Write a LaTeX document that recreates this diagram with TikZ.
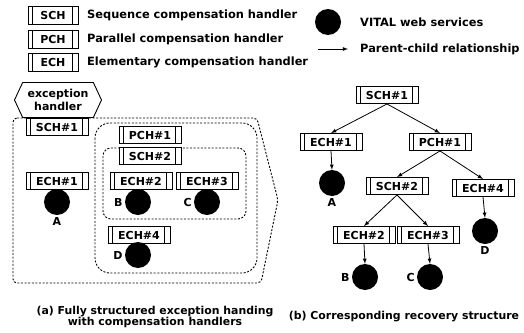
\documentclass[tikz,border=0pt]{standalone}
\usepackage{fontspec}
\setmainfont{DejaVu Sans}
\usetikzlibrary{arrows, shapes.symbols, positioning}
\newcommand{\boxfont}{\bfseries\fontsize{11}{13}\selectfont}
\newcommand{\legendfont}{\bfseries\fontsize{11.4}{13}\selectfont}
\newcommand{\captionfont}{\bfseries\fontsize{10.9}{11.5}\selectfont}
\tikzset{
    handler/.style={rectangle, draw, fill=white, line width=0.9pt, minimum width=62pt, minimum height=17pt, inner sep=0pt, font=\boxfont,
        path picture={
            \draw[line width=0.7pt] ([xshift=4pt]path picture bounding box.north west) -- ([xshift=4pt]path picture bounding box.south west);
            \draw[line width=0.7pt] ([xshift=-6pt]path picture bounding box.north east) -- ([xshift=-6pt]path picture bounding box.south east);
        }},
    legendBox/.style={handler, minimum width=50pt, minimum height=18pt},
    legendText/.style={anchor=west, inner sep=0pt, font=\legendfont},
    service/.style={circle, fill=black, minimum size=26pt, inner sep=0pt},
    svcLabel/.style={font=\boxfont, inner sep=2pt},
    excBox/.style={signal, signal to=west and east, signal pointer angle=130, draw, fill=white, line width=0.9pt, minimum width=87pt, minimum height=35pt, inner sep=0pt, align=center, font=\boxfont},
    region/.style={line width=0.9pt, dash pattern=on 2pt off 1.6pt},
    treeEdge/.style={->, >=latex, line width=0.8pt},
}
\newcommand{\drawChild}[2]{
    \draw[treeEdge] (#1.south) -- (#2.north);
}

\begin{document}
\begin{tikzpicture}[x=1pt, y=-1pt]
    \useasboundingbox (0,0) rectangle (524,332);

    % legend
    \node[legendBox] (legSch) at (53,15) {SCH};
    \node[legendBox] (legPch) at (53,39) {PCH};
    \node[legendBox] (legEch) at (53,62) {ECH};
    \node[legendText] (legSchTxt) at (87,15) {Sequence compensation handler};
    \node[legendText] (legPchTxt) at (87,39) {Parallel compensation handler};
    \node[legendText] (legEchTxt) at (87,62) {Elementary compensation handler};
    \node[service] (legSvc) at (328,22) {};
    \node[legendText] (legSvcTxt) at (360,22) {VITAL web services};
    \coordinate (legTail) at (318,49);
    \coordinate (legHead) at (348,49);
    \draw[treeEdge] (legTail) -- (legHead);
    \node[legendText] (legEdgeTxt) at (360,49) {Parent-child relationship};

    % (a) nested handlers
    \draw[region, rounded corners=4pt] (13,118) -- (257,118) -- (278,200) -- (261,283) -- (13,283) -- cycle;
    \draw[region, rounded corners=15pt] (95,123) rectangle (257,273);
    \draw[region, rounded corners=8pt] (103,148) rectangle (246,219);

    \node[excBox] (exc) at (58,100) {exception\\handler};
    \node[handler] (lsch1) at (57,127) {SCH\#1};
    \node[handler] (lpch1) at (150,135) {PCH\#1};
    \node[handler] (lsch2) at (150,156) {SCH\#2};
    \node[handler] (lech1) at (57,181) {ECH\#1};
    \node[handler] (lech2) at (141,181) {ECH\#2};
    \node[handler] (lech3) at (207,181) {ECH\#3};
    \node[handler] (lech4) at (139,235) {ECH\#4};
    \node[service, label={[svcLabel]below:A}] (lsvA) at (57,202) {};
    \node[service, label={[svcLabel]left:B}] (lsvB) at (138,202) {};
    \node[service, label={[svcLabel]left:C}] (lsvC) at (207,202) {};
    \node[service, label={[svcLabel]left:D}] (lsvD) at (138,255) {};

    % (b) recovery tree
    \node[handler] (rsch1) at (387,95) {SCH\#1};
    \node[handler] (rech1) at (331,142) {ECH\#1};
    \node[handler] (rpch1) at (440,142) {PCH\#1};
    \node[handler] (rsch2) at (397,186) {SCH\#2};
    \node[handler] (rech4) at (483,188) {ECH\#4};
    \node[handler] (rech2) at (364,235) {ECH\#2};
    \node[handler] (rech3) at (428,235) {ECH\#3};
    \node[service, label={[svcLabel]below:A}] (rsvA) at (332,183) {};
    \node[service, label={[svcLabel]below:D}] (rsvD) at (485,231) {};
    \node[service, label={[svcLabel]left:B}] (rsvB) at (365,277) {};
    \node[service, label={[svcLabel]left:C}] (rsvC) at (430,277) {};

    \drawChild{rsch1}{rech1}
    \drawChild{rsch1}{rpch1}
    \drawChild{rech1}{rsvA}
    \drawChild{rpch1}{rsch2}
    \drawChild{rpch1}{rech4}
    \drawChild{rech4}{rsvD}
    \drawChild{rsch2}{rech2}
    \drawChild{rsch2}{rech3}
    \drawChild{rech2}{rsvB}
    \drawChild{rech3}{rsvC}

    % captions
    \node[align=center, font=\captionfont, inner sep=0pt] (capA) at (155,317) {(a) Fully structured exception handing\\with compensation handlers};
    \node[font=\captionfont, inner sep=0pt] (capB) at (404,317) {(b) Corresponding recovery structure};
\end{tikzpicture}
\end{document}
